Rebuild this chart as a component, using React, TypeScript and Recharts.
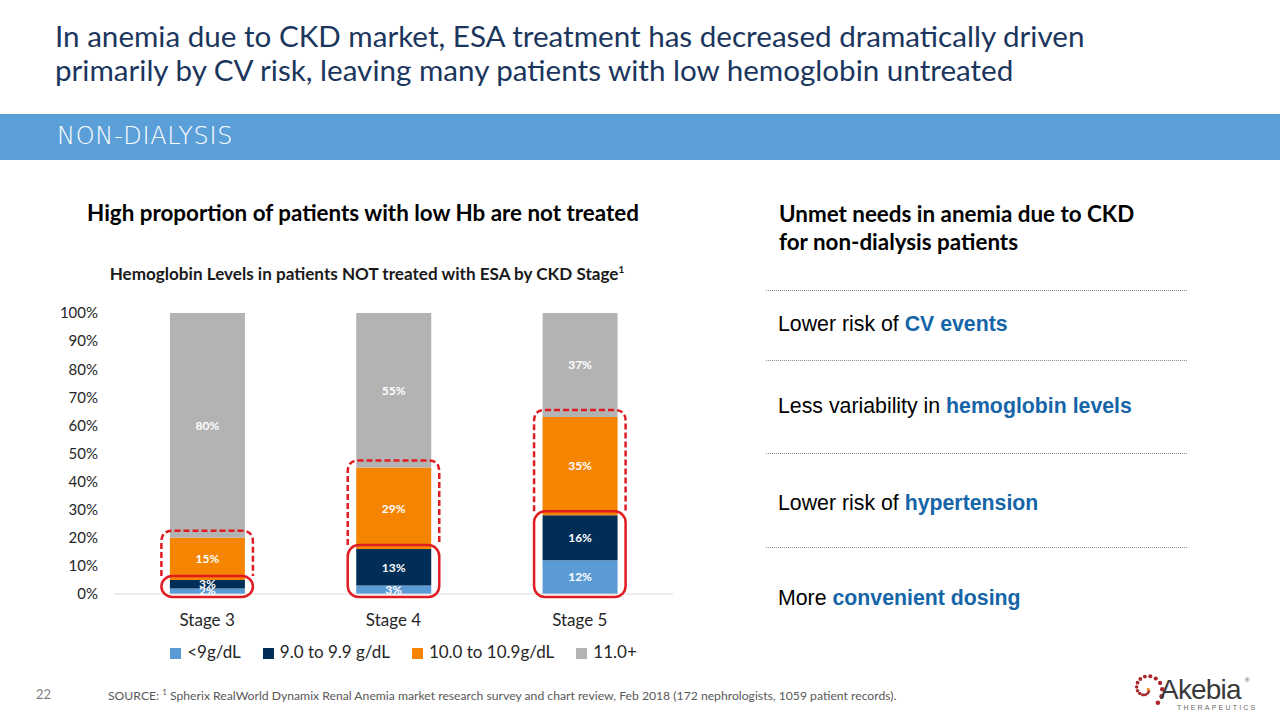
import React from 'react';
import {
  BarChart,
  Bar,
  XAxis,
  YAxis,
  Legend,
  LabelList,
  ReferenceArea,
} from 'recharts';

const stages = ['Stage 3', 'Stage 4', 'Stage 5'];
const below9 = [2, 3, 12];
const from9to99 = [3, 13, 16];
const from10to109 = [15, 29, 35];
const above11 = [80, 55, 37];
const yTicks = [0, 10, 20, 30, 40, 50, 60, 70, 80, 90, 100];

const seriesNames = ['<9g/dL', '9.0 to 9.9 g/dL', '10.0 to 10.9g/dL', '11.0+'];
const seriesColors = ['#5B9BD5', '#002E56', '#F58400', '#B3B3B3'];

const unmetNeeds = [
  { plain: 'Lower risk of ', bold: 'CV events' },
  { plain: 'Less variability in ', bold: 'hemoglobin levels' },
  { plain: 'Lower risk of ', bold: 'hypertension' },
  { plain: 'More ', bold: 'convenient dosing' },
];

const data = stages.map((stage, i) => ({
  stage,
  a: below9[i],
  b: from9to99[i],
  c: from10to109[i],
  d: above11[i],
}));

const CALIBRI = 'Lato, "Open Sans", sans-serif';
const ARIAL = '"Liberation Sans", Arial, sans-serif';
const RED = '#E01B22';

// solid rounded outline around the two lowest segments of a bar
const solidOutline = (props: any) => {
  const { x, y, width, height } = props;
  const w = width * 0.4 + 17;
  const cx = x + width / 2;
  return (
    <rect
      x={cx - w / 2}
      y={y - 4}
      width={w}
      height={height + 7}
      rx={11}
      ry={11}
      fill="none"
      stroke={RED}
      strokeWidth={2.5}
    />
  );
};

// dashed outline with open bottom, it runs down into the solid one
const dashedOutline = (props: any) => {
  const { x, y, width, height } = props;
  const w = width * 0.4 + 17;
  const l = x + width / 2 - w / 2;
  const r = l + w;
  const top = y - 7;
  const bottom = y + height - 4;
  const rad = 11;
  const d = `M${l},${bottom} V${top + rad} Q${l},${top} ${l + rad},${top} H${r - rad} Q${r},${top} ${r},${top + rad} V${bottom}`;
  return <path d={d} fill="none" stroke={RED} strokeWidth={2.5} strokeDasharray="6 3" />;
};

const pct = (v: any) => `${v}%`;

const labelStyle = {
  fill: '#FFFFFF',
  fontFamily: CALIBRI,
  fontSize: 12,
  fontWeight: 700,
};

const Logo = () => (
  <svg width={140} height={46} style={{ position: 'absolute', left: 1122, top: 668 }}>
    {[...Array(18)].map((_, i) => {
      const t = i * 0.42;
      const r = 2 + i * 0.95;
      return (
        <circle
          key={i}
          cx={24 + r * Math.cos(t)}
          cy={21 + r * Math.sin(t)}
          r={1.3 + i * 0.06}
          fill={i < 2 ? '#F08A24' : '#A8262C'}
        />
      );
    })}
    <text x={38} y={31} fontFamily={ARIAL} fontSize={28} fill="#3A3A3A" letterSpacing={-0.8}>
      Akebia
    </text>
    <text x={123} y={14} fontFamily={ARIAL} fontSize={6} fill="#3A3A3A">
      ®
    </text>
    <text x={55} y={42} fontFamily={ARIAL} fontSize={7} fill="#6A6A6A" letterSpacing={2.2}>
      THERAPEUTICS
    </text>
  </svg>
);

const App = () => {
  return (
    <div
      style={{
        position: 'absolute',
        left: 0,
        top: 0,
        width: 1280,
        height: 720,
        background: '#FFFFFF',
        overflow: 'hidden',
        fontFamily: CALIBRI,
      }}
    >
      <div
        style={{
          position: 'absolute',
          left: 55,
          top: 19,
          fontSize: 29.6,
          lineHeight: '34px',
          color: '#1B365D',
          whiteSpace: 'nowrap',
        }}
      >
        In anemia due to CKD market, ESA treatment has decreased dramatically driven
        <br />
        primarily by CV risk, leaving many patients with low hemoglobin untreated
      </div>

      <div
        style={{
          position: 'absolute',
          left: 0,
          top: 114,
          width: 1280,
          height: 46,
          background: '#5B9FD9',
        }}
      />
      <div
        style={{
          position: 'absolute',
          left: 57,
          top: 121,
          fontSize: 24,
          fontWeight: 300,
          color: '#FFFFFF',
          lineHeight: '30px',
          fontFamily: '"DejaVu Sans", Lato, sans-serif',
          letterSpacing: 0.7,
        }}
      >
        NON-DIALYSIS
      </div>

      <div
        style={{
          position: 'absolute',
          left: 63,
          width: 600,
          top: 199,
          textAlign: 'center',
          fontSize: 22.4,
          fontWeight: 700,
          color: '#000000',
          whiteSpace: 'nowrap',
        }}
      >
        High proportion of patients with low Hb are not treated
      </div>
      <div
        style={{
          position: 'absolute',
          left: 67,
          width: 600,
          top: 263,
          textAlign: 'center',
          fontSize: 17.1,
          fontWeight: 700,
          color: '#1A1A1A',
          whiteSpace: 'nowrap',
        }}
      >
        Hemoglobin Levels in patients NOT treated with ESA by CKD Stage
        <sup style={{ fontSize: 10 }}>1</sup>
      </div>

      <div style={{ position: 'absolute', left: 40, top: 300 }}>
        <BarChart
          width={640}
          height={380}
          data={data}
          margin={{ top: 13, right: 7, left: 0, bottom: 17 }}
          barCategoryGap="30%"
        >
          <XAxis
            dataKey="stage"
            axisLine={{ stroke: '#D9D9D9' }}
            tickLine={false}
            tickMargin={14}
            height={47}
            tick={{ fill: '#262626', fontSize: 17, fontFamily: CALIBRI }}
          />
          <YAxis
            width={74}
            domain={[0, 100]}
            ticks={yTicks}
            tickFormatter={pct}
            axisLine={false}
            tickLine={false}
            tickMargin={10}
            interval={0}
            tick={{ fill: '#262626', fontSize: 15, fontFamily: CALIBRI }}
          />
          <Legend
            verticalAlign="bottom"
            iconType="square"
            iconSize={11}
            itemSorter={(item: any) => seriesNames.indexOf(item.value)}
            wrapperStyle={{ fontFamily: CALIBRI, fontSize: 17, lineHeight: '22px', height: 22, left: 52 }}
            formatter={(value: string) => (
              <span style={{ color: '#262626', paddingRight: value === '11.0+' ? 0 : 12, paddingLeft: 2 }}>
                {value}
              </span>
            )}
          />
          <Bar dataKey="a" name={seriesNames[0]} stackId="s" fill={seriesColors[0]} isAnimationActive={false}>
            <LabelList dataKey="a" position="center" formatter={pct} style={labelStyle} />
          </Bar>
          <Bar dataKey="b" name={seriesNames[1]} stackId="s" fill={seriesColors[1]} isAnimationActive={false}>
            <LabelList dataKey="b" position="center" formatter={pct} style={labelStyle} />
          </Bar>
          <Bar dataKey="c" name={seriesNames[2]} stackId="s" fill={seriesColors[2]} isAnimationActive={false}>
            <LabelList dataKey="c" position="center" formatter={pct} style={labelStyle} />
          </Bar>
          <Bar dataKey="d" name={seriesNames[3]} stackId="s" fill={seriesColors[3]} isAnimationActive={false}>
            <LabelList dataKey="d" position="center" formatter={pct} style={labelStyle} />
          </Bar>
          {data.map((row) => (
            <ReferenceArea
              key={`dash-${row.stage}`}
              x1={row.stage}
              x2={row.stage}
              y1={row.a + row.b}
              y2={row.a + row.b + row.c}
              ifOverflow="visible"
              zIndex={1500}
              shape={dashedOutline}
            />
          ))}
          {data.map((row) => (
            <ReferenceArea
              key={`solid-${row.stage}`}
              x1={row.stage}
              x2={row.stage}
              y1={0}
              y2={row.a + row.b}
              ifOverflow="visible"
              zIndex={1600}
              shape={solidOutline}
            />
          ))}
        </BarChart>
      </div>

      <div
        style={{
          position: 'absolute',
          left: 779,
          top: 200,
          fontSize: 22.4,
          fontWeight: 700,
          lineHeight: '28px',
          color: '#000000',
          whiteSpace: 'nowrap',
        }}
      >
        Unmet needs in anemia due to CKD
        <br />
        for non-dialysis patients
      </div>

      {[290, 360, 453, 547].map((y) => (
        <div
          key={y}
          style={{
            position: 'absolute',
            left: 766,
            top: y,
            width: 421,
            borderTop: '1px dotted #8C8C8C',
          }}
        />
      ))}

      {unmetNeeds.map((item, i) => (
        <div
          key={item.bold}
          style={{
            position: 'absolute',
            left: 778,
            top: [310, 392, 489, 584][i],
            fontFamily: ARIAL,
            fontSize: 21.3,
            lineHeight: '28px',
            color: '#000000',
            whiteSpace: 'nowrap',
          }}
        >
          {item.plain}
          <span style={{ color: '#1565A8', fontWeight: 700 }}>{item.bold}</span>
        </div>
      ))}

      <div
        style={{
          position: 'absolute',
          left: 36,
          top: 686,
          fontSize: 13,
          color: '#7F7F7F',
        }}
      >
        22
      </div>
      <div
        style={{
          position: 'absolute',
          left: 108,
          top: 687,
          fontSize: 12.2,
          color: '#595959',
          whiteSpace: 'nowrap',
        }}
      >
        SOURCE: <sup style={{ fontSize: 8 }}>1</sup> Spherix RealWorld Dynamix Renal Anemia market research survey
        and chart review, Feb 2018 (172 nephrologists, 1059 patient records).
      </div>

      <Logo />
    </div>
  );
};

export default App;
